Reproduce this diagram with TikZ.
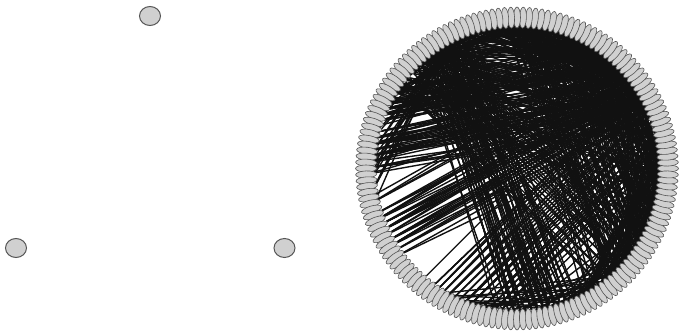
\documentclass[tikz,border=0pt]{standalone}
\usetikzlibrary{shapes.geometric,backgrounds}
\definecolor{nodefill}{RGB}{208,208,208}
\definecolor{nodeline}{RGB}{85,85,85}
\definecolor{chordcol}{RGB}{17,17,17}
% family of nearly parallel chords: count, a1, a2, angle sum, jitter
\newcommand\chordfamily[5]{%
  \foreach \k in {1,...,#1}{%
    \pgfmathsetmacro\aa{#2+rnd*(#3-#2)}%
    \pgfmathtruncatemacro\ia{mod(round(\aa/2.25)+320,160)}%
    \pgfmathtruncatemacro\ib{mod(round((#4-\aa+#5*(rnd-0.5))/2.25)+480,160)}%
    \draw[chord] (n\ia) -- (n\ib);%
  }}
% short chords: count, a1, a2, min offset, max offset
\newcommand\shortchords[5]{%
  \foreach \k in {1,...,#1}{%
    \pgfmathsetmacro\aa{#2+rnd*(#3-#2)}%
    \pgfmathtruncatemacro\ia{mod(round(\aa/2.25)+320,160)}%
    \pgfmathtruncatemacro\ib{mod(round((\aa+#4+rnd*(#5-#4))/2.25)+320,160)}%
    \draw[chord] (n\ia) -- (n\ib);%
  }}
\begin{document}
\begin{tikzpicture}[x=1pt,y=1pt,
  smallnode/.style={ellipse,draw=nodeline,fill=nodefill,line width=1pt,minimum width=21pt,minimum height=19pt,inner sep=0pt},
  ringnode/.style={ellipse,draw=nodeline,fill=nodefill,line width=0.6pt,minimum width=21pt,minimum height=7pt,inner sep=0pt},
  chord/.style={draw=chordcol,line width=1.4pt}]
\useasboundingbox (0,0) rectangle (682,332);
\node[smallnode] (t) at (150,316) {};
\node[smallnode] (l) at (16,84) {};
\node[smallnode] (r) at (284.5,84) {};
\begin{scope}[shift={(517,163.5)}]
\foreach \i in {0,...,159}{
  \pgfmathsetmacro\ang{\i*2.25}
  \node[ringnode,rotate=\ang] (n\i) at (\ang:151) {};
}
\end{scope}
\pgfmathsetseed{11}
\begin{pgfonlayer}{background}
% left upper fan
\chordfamily{85}{150}{183}{204}{18}
% left lower fan
\chordfamily{45}{192}{216}{238}{12}
% top band
\chordfamily{85}{105}{152}{150}{44}
% steep lines from top to bottom
\chordfamily{65}{108}{132}{40}{14}
% steep lines in the right half
\chordfamily{80}{55}{95}{40}{24}
% lattice down-right
\chordfamily{40}{118}{145}{90}{4}
% lattice up-right
\chordfamily{50}{0}{42}{270}{4}
% short chords on the right
\shortchords{110}{-70}{60}{45}{90}
% short chords on top
\shortchords{60}{30}{120}{40}{80}
% short chords at the bottom
\shortchords{40}{235}{310}{40}{80}
\end{pgfonlayer}
\end{tikzpicture}
\end{document}
